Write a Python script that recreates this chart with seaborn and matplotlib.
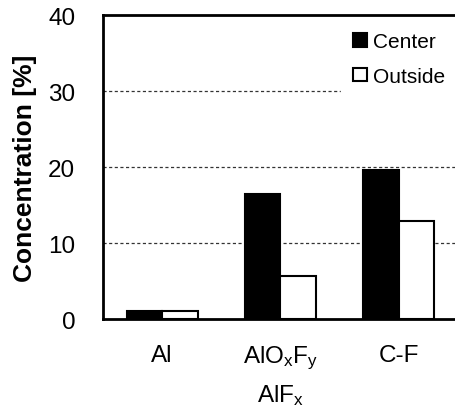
import numpy as np
import pandas as pd
import matplotlib
matplotlib.use("Agg")
import matplotlib.pyplot as plt
import seaborn as sns
from matplotlib.ticker import FixedLocator

categories = ["Al", "AlO$_x$F$_y$\nAlF$_x$", "C-F"]
center = [1.0, 16.4, 19.6]
outside = [1.0, 5.7, 12.9]
series = ["Center", "Outside"]

df = pd.DataFrame({
    "cat": categories * 2,
    "val": center + outside,
    "pos": [series[0]] * 3 + [series[1]] * 3,
})

sns.set_style("white")
plt.rcParams["font.family"] = ["Liberation Sans", "DejaVu Sans"]
plt.rcParams["mathtext.fontset"] = "custom"
plt.rcParams["mathtext.rm"] = "Liberation Sans"
plt.rcParams["mathtext.it"] = "Liberation Sans"
plt.rcParams["text.color"] = "black"
plt.rcParams["axes.labelcolor"] = "black"
plt.rcParams["xtick.color"] = "black"
plt.rcParams["ytick.color"] = "black"

fig = plt.figure(figsize=(4.56, 4.14), dpi=100)
ax = fig.add_axes([0.226, 0.227, 0.778, 0.734])

sns.barplot(data=df, x="cat", y="val", hue="pos", palette=["black", "white"],
            edgecolor="black", linewidth=1.5, width=0.6, ax=ax)

ax.set_ylim(0, 40)
ax.set_xlim(-0.5, 2.5)
ax.set_yticks([0, 10, 20, 30, 40])
ax.set_axisbelow(True)
for y in [10, 20, 30]:
    ax.axhline(y, color="#333333", lw=0.9, ls=(0, (2.5, 2)), zorder=0)

ax.tick_params(axis="y", length=0, pad=20, labelsize=17.5)
ax.tick_params(axis="x", which="major", length=0, pad=18, labelsize=17.5)
for lab in ax.get_xticklabels():
    lab.set_linespacing(1.55)
ax.xaxis.set_minor_locator(FixedLocator([0.5, 1.5]))
ax.tick_params(axis="x", which="minor", direction="in", length=7, width=1.2)

for s in ["left", "bottom", "top"]:
    ax.spines[s].set_linewidth(2)
    ax.spines[s].set_color("black")
ax.spines["right"].set_visible(False)

ax.set_xlabel("")
ax.set_ylabel("Concentration [%]", fontsize=19, fontweight="bold", labelpad=8)

leg = ax.legend(loc="upper right", bbox_to_anchor=(1.0, 0.985), frameon=True,
                fontsize=15, handlelength=0.65, handleheight=0.65,
                handletextpad=0.3, labelspacing=0.75, borderpad=0.6,
                borderaxespad=0)
leg.get_frame().set_facecolor("white")
leg.get_frame().set_edgecolor("white")
leg.get_frame().set_alpha(1)
leg.set_zorder(5)

fig.savefig("out.png", dpi=100)
